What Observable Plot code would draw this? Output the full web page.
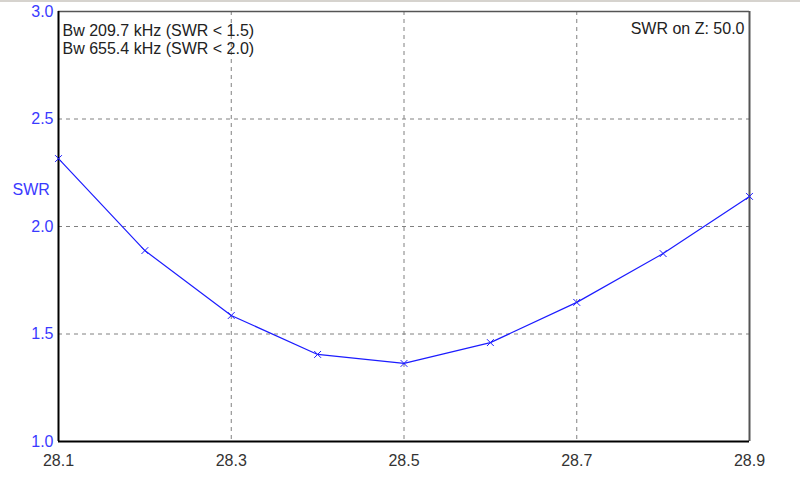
<!DOCTYPE html>
<html>
<head>
<meta charset="utf-8">
<script src="https://cdn.jsdelivr.net/npm/d3@7"></script>
<script src="https://cdn.jsdelivr.net/npm/@observablehq/plot@0.6"></script>
<style>
  html, body { margin: 0; padding: 0; background: #ffffff; }
  #wrap { position: relative; width: 800px; height: 477px; overflow: hidden; }
  #topline { position: absolute; left: 0; top: 0; width: 800px; height: 2px; background: #d6d3ce; }
</style>
</head>
<body>
<div id="wrap"><div id="topline"></div></div>
<script>
// Frequency (MHz) and SWR readings
const freqs = [28.1, 28.2, 28.3, 28.4, 28.5, 28.6, 28.7, 28.8, 28.9];
const swr   = [2.316, 1.888, 1.586, 1.405, 1.363, 1.460, 1.647, 1.874, 2.140];
const xTicks = [28.1, 28.3, 28.5, 28.7, 28.9];
const yTicks = [1.0, 1.5, 2.0, 2.5, 3.0];
const xGrid = [28.3, 28.5, 28.7];
const yGrid = [1.5, 2.0, 2.5];
const infoLeft = ["Bw 209.7 kHz (SWR < 1.5)", "Bw 655.4 kHz (SWR < 2.0)"];
const infoRight = "SWR on Z: 50.0";
const yLabel = "SWR";

const data = freqs.map((f, i) => ({f, s: swr[i]}));
const font = "'Liberation Sans', Arial, sans-serif";
const blue = "#3a3aff";
const lineBlue = "#1c1cff";

const chart = Plot.plot({
  width: 800,
  height: 477,
  marginLeft: 58,
  marginRight: 51,
  marginTop: 11,
  marginBottom: 36,
  style: {fontFamily: font, fontSize: "16px", background: "transparent", overflow: "visible"},
  x: {domain: [28.1, 28.9]},
  y: {domain: [1.0, 3.0]},
  marks: [
    Plot.ruleX(xGrid, {stroke: "#808080", strokeDasharray: "4,4", strokeWidth: 1}),
    Plot.ruleY(yGrid, {stroke: "#808080", strokeDasharray: "4,4", strokeWidth: 1}),
    Plot.ruleX([28.9], {stroke: "#555", strokeWidth: 2}),
    Plot.ruleY([3.0], {stroke: "#555", strokeWidth: 1.5}),
    Plot.ruleX([28.1], {stroke: "#000", strokeWidth: 2}),
    Plot.ruleY([1.0], {stroke: "#000", strokeWidth: 2}),
    Plot.line(data, {x: "f", y: "s", stroke: lineBlue, strokeWidth: 1.2}),
    Plot.dot(data, {x: "f", y: "s", symbol: "times", r: 3.2, stroke: lineBlue, strokeWidth: 1}),
    Plot.axisX(xTicks, {tickSize: 0, tickPadding: 13, tickFormat: d3.format(".1f"), fill: "#333", fontSize: 16, label: null}),
    Plot.axisY(yTicks, {tickSize: 0, tickPadding: 5, tickFormat: d3.format(".1f"), fill: blue, fontSize: 16, label: null}),
    Plot.text([infoLeft.join("\n")], {frameAnchor: "top-left", textAnchor: "start", lineAnchor: "top", dx: 4, dy: 12, lineHeight: 1.125, fontSize: 16, fill: "#222"}),
    Plot.text([infoRight], {frameAnchor: "top-right", textAnchor: "end", lineAnchor: "top", dx: -5, dy: 11, fontSize: 16, fill: "#222"}),
    Plot.text([yLabel], {frameAnchor: "left", textAnchor: "start", lineAnchor: "middle", dx: -46, dy: -37, fontSize: 16, fill: blue})
  ]
});
chart.style.position = "absolute";
chart.style.left = "0px";
chart.style.top = "0px";
document.getElementById("wrap").appendChild(chart);
</script>
</body>
</html>
